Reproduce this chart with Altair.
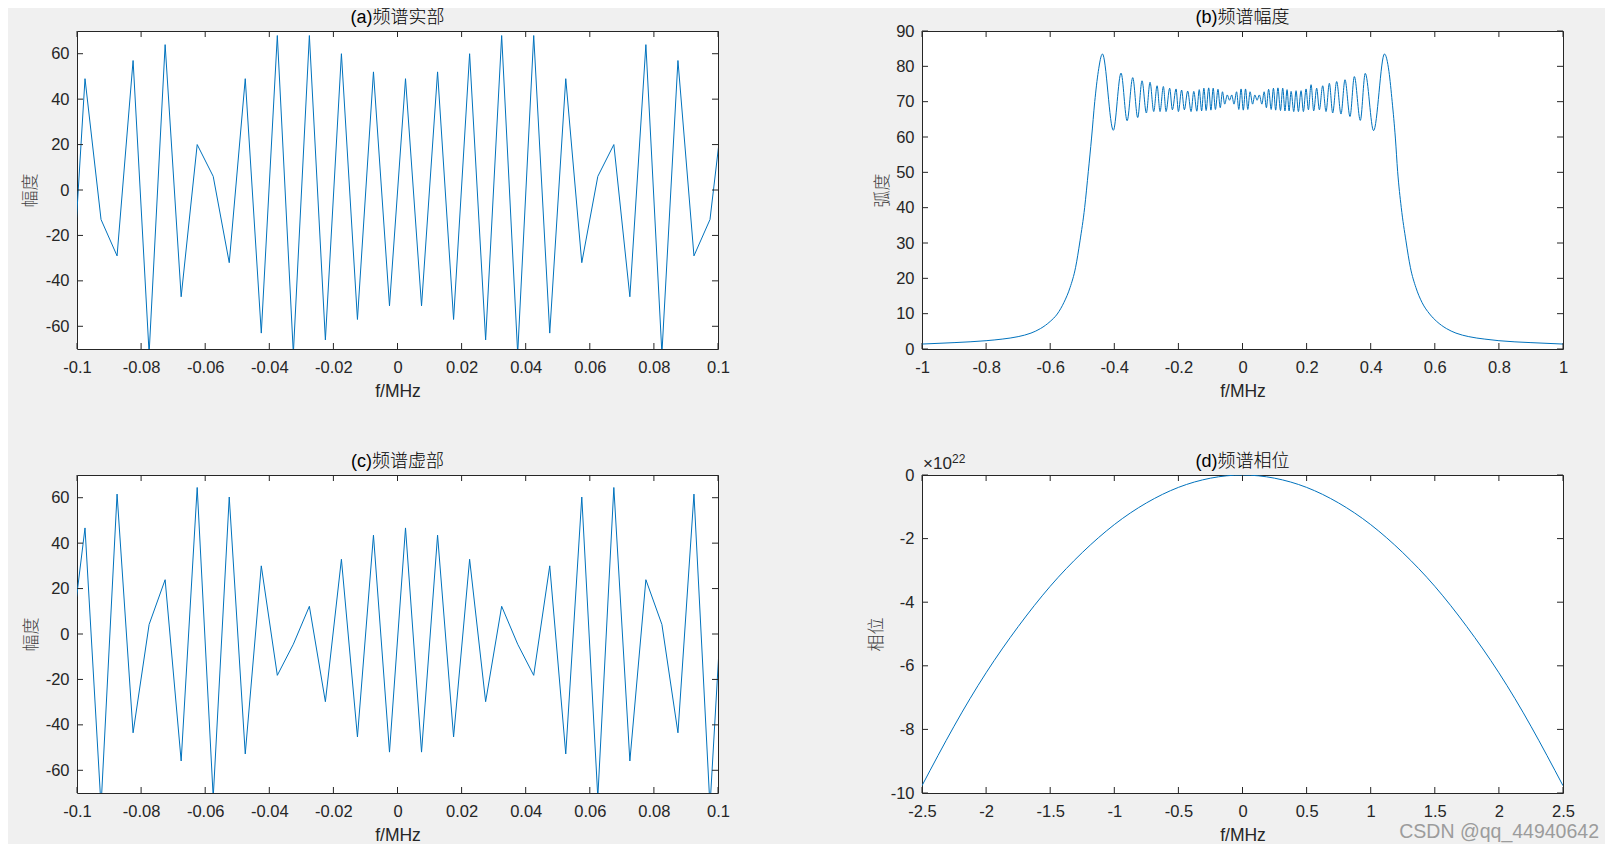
import altair as alt
import pandas as pd

BLUE = "#0072BD"
AX = "#262626"
FONT = "Liberation Sans, Arial, Noto Sans CJK SC"
CJK = "Noto Sans CJK SC"
W, H = 641, 318
TL = 6

# ---------------- data ----------------
f_ac = [-0.1025, -0.0975, -0.0925, -0.0875, -0.0825, -0.0775, -0.0725, -0.0675, -0.0625, -0.0575,
        -0.0525, -0.0475, -0.0425, -0.0375, -0.0325, -0.0275, -0.0225, -0.0175, -0.0125, -0.0075,
        -0.0025, 0.0025, 0.0075, 0.0125, 0.0175, 0.0225, 0.0275, 0.0325, 0.0375, 0.0425,
        0.0475, 0.0525, 0.0575, 0.0625, 0.0675, 0.0725, 0.0775, 0.0825, 0.0875, 0.0925,
        0.0975, 0.1025]
real_part = [-67, 49, -13, -29, 57, -72, 64, -47, 20, 6,
             -32, 49, -63, 68, -72, 68, -66, 60, -57, 52,
             -51, 49, -51, 52, -57, 60, -66, 68, -72, 68,
             -63, 49, -32, 6, 20, -47, 64, -72, 57, -29,
             -13, 47]
imag_part = [-11, 46.7, -76, 61.6, -43.5, 4.2, 23.9, -55.9, 64.5, -72,
             60.3, -52.8, 30, -18.2, -4.5, 12.2, -29.8, 32.9, -45.3, 43.5,
             -52, 46.7, -52, 43.5, -45.3, 32.9, -29.8, 12.2, -4.5, -18.2,
             30, -52.8, 60.3, -72, 64.5, -55.9, 23.9, 4.2, -43.5, 61.6,
             -76, 46.7]

f_mag = [-1.0, -0.9, -0.8, -0.75, -0.7, -0.66, -0.63, -0.6, -0.578, -0.557, -0.538,
         -0.521, -0.507, -0.4925, -0.481, -0.471, -0.461, -0.450, -0.437,
         -0.403, -0.379, -0.360, -0.3425, -0.327, -0.3135, -0.300, -0.2885, -0.277, -0.2665,
         -0.2573, -0.2469, -0.2385, -0.2272, -0.2188, -0.2073, -0.200, -0.190, -0.1814, -0.171,
         -0.1605, -0.152, -0.1425, -0.135, -0.1275, -0.1205, -0.1135, -0.1055, -0.0985, -0.0915,
         -0.0845, -0.0765, -0.0695, -0.0625, -0.0555, -0.0475, -0.0405, -0.0335, -0.0265, -0.0185,
         -0.0115, -0.0045, 0.0025, 0.0095, 0.0165, 0.0235, 0.0315, 0.0385, 0.0455, 0.0525,
         0.0605, 0.0675, 0.0745, 0.0815, 0.0895, 0.0965, 0.1035, 0.1105, 0.1185, 0.1255,
         0.1325, 0.139, 0.1453, 0.1516, 0.1599, 0.1671, 0.1744, 0.1827, 0.19, 0.1983,
         0.2056, 0.2139, 0.2222, 0.2315, 0.2398, 0.2502, 0.2606, 0.271, 0.2814, 0.2938,
         0.3073, 0.3198, 0.3354, 0.349, 0.3676, 0.383, 0.409, 0.443,
         0.457, 0.467, 0.477, 0.484, 0.4954, 0.51, 0.524, 0.541, 0.56, 0.584,
         0.606, 0.636, 0.666, 0.706, 0.756, 0.8, 0.9, 1.0]
magnitude = [1.4, 1.8, 2.35, 2.8, 3.5, 4.5, 5.8, 7.8, 9.9, 13.2, 17.4,
             23.0, 30.6, 40.0, 50.3, 59.7, 70.0, 78.5, 83.5,
             61.9, 78.1, 64.6, 76.8, 65.5, 75.9, 66.8, 75.5, 67.2, 74.5,
             67.2, 74.3, 67.2, 73.8, 67.7, 73.6, 67.2, 73.3, 67.7, 73.0,
             67.2, 72.9, 67.3, 73.4, 67.4, 73.8, 67.5, 73.9, 67.6, 73.8,
             67.8, 73.5, 68.3, 72.8, 69.3, 71.9, 70.4, 71.9, 69.3, 72.8,
             67.8, 73.6, 67.6, 73.6, 67.8, 72.8, 69.3, 71.9, 70.4, 71.9,
             69.3, 72.8, 68.3, 73.5, 67.8, 73.8, 67.6, 73.9, 67.5, 73.8,
             67.4, 73.4, 67.4, 72.9, 67.2, 73.1, 67.2, 73.1, 67.2, 73.6,
             67.7, 74.8, 67.4, 73.8, 67.7, 74.5, 67.2, 75.2, 66.8, 75.7,
             66.5, 76.2, 65.8, 77.1, 64.7, 78.0, 61.8, 83.5,
             78.5, 70.0, 59.7, 50.3, 40.0, 30.6, 23.0, 17.4, 13.2, 9.9,
             7.8, 5.8, 4.5, 3.5, 2.8, 2.35, 1.8, 1.4]

f_phase = [-2.5, -2.25, -2.0, -1.75, -1.5, -1.25, -1.0, -0.75, -0.5, -0.25, 0.0,
           0.25, 0.5, 0.75, 1.0, 1.25, 1.5, 1.75, 2.0, 2.25, 2.5]
phase_e22 = [-9.77, -7.9, -6.22, -4.77, -3.5, -2.44, -1.56, -0.88, -0.39, -0.1, 0.0,
             -0.1, -0.39, -0.88, -1.56, -2.44, -3.5, -4.77, -6.22, -7.9, -9.77]

ticks_x_ac = [-0.1, -0.08, -0.06, -0.04, -0.02, 0, 0.02, 0.04, 0.06, 0.08, 0.1]
ticks_y_ac = [-60, -40, -20, 0, 20, 40, 60]
ticks_x_b = [-1, -0.8, -0.6, -0.4, -0.2, 0, 0.2, 0.4, 0.6, 0.8, 1]
ticks_y_b = [0, 10, 20, 30, 40, 50, 60, 70, 80, 90]
ticks_x_d = [-2.5, -2, -1.5, -1, -0.5, 0, 0.5, 1, 1.5, 2, 2.5]
ticks_y_d = [-10, -8, -6, -4, -2, 0]

titles = ["(a)频谱实部", "(b)频谱幅度", "(c)频谱虚部", "(d)频谱相位"]
ylabels = ["幅度", "弧度", "幅度", "相位"]
xlabel = "f/MHz"

LAB = "datum.value < 0 ? '-' + format(-datum.value, '.2~f') : format(datum.value, '.2~f')"


def text_layer(txt, x, y, size, color=AX, align="center", baseline="middle", weight=400):
    return alt.Chart(pd.DataFrame({"t": [txt]})).mark_text(
        align=align, baseline=baseline, font=FONT, fontSize=size, color=color, fontWeight=weight
    ).encode(x=alt.value(x), y=alt.value(y), text="t:N")


def panel(df, xdom, ydom, xticks, yticks, title, ylab, ytx, interp="linear", extra=None):
    xs = alt.Scale(domain=xdom, nice=False, zero=False)
    ys = alt.Scale(domain=ydom, nice=False, zero=False)
    xaxis = alt.Axis(
        values=xticks, ticks=False, domain=False, grid=False, labelExpr=LAB,
        labelFont=FONT, labelFontSize=16.5, labelColor=AX, labelPadding=10,
        labelFlush=False, labelOverlap=False, labelBound=False,
        title=xlabel, titleFont=FONT, titleFontSize=17.5, titleFontWeight="normal",
        titleColor=AX, titleX=W / 2, titleY=42, titleBaseline="middle", titleAlign="center")
    yaxis = alt.Axis(
        values=yticks, ticks=False, domain=False, grid=False, labelExpr=LAB,
        labelFont=FONT, labelFontSize=16.5, labelColor=AX, labelPadding=8,
        labelFlush=False, labelOverlap=False, labelBound=False,
        title=ylab, titleFont=CJK, titleFontSize=17, titleFontWeight=300,
        titleColor="#404040", titleX=ytx, titleY=H / 2, titleBaseline="middle",
        titleAlign="center", titleAngle=270)
    line = alt.Chart(df).mark_line(color=BLUE, strokeWidth=1, clip=True, interpolate=interp).encode(
        x=alt.X("f:Q", scale=xs, axis=xaxis),
        y=alt.Y("v:Q", scale=ys, axis=yaxis),
    )
    xt = pd.DataFrame({"f": xticks})
    yt = pd.DataFrame({"v": yticks})
    rule = dict(color=AX, strokeWidth=1)
    bx = alt.Chart(xt).mark_rule(**rule).encode(
        x=alt.X("f:Q", scale=xs, axis=xaxis), y=alt.value(H), y2=alt.value(H - TL))
    tx = alt.Chart(xt).mark_rule(**rule).encode(
        x=alt.X("f:Q", scale=xs, axis=xaxis), y=alt.value(0), y2=alt.value(TL))
    ly = alt.Chart(yt).mark_rule(**rule).encode(
        y=alt.Y("v:Q", scale=ys, axis=yaxis), x=alt.value(0), x2=alt.value(TL))
    ry = alt.Chart(yt).mark_rule(**rule).encode(
        y=alt.Y("v:Q", scale=ys, axis=yaxis), x=alt.value(W - TL), x2=alt.value(W))
    ttl = text_layer(title, W / 2, -13.5, 18, color="#000000", weight=300)
    layers = [line, bx, tx, ly, ry, ttl] + (extra or [])
    return alt.layer(*layers).properties(width=W, height=H)


df_a = pd.DataFrame({"f": f_ac, "v": real_part})
df_c = pd.DataFrame({"f": f_ac, "v": imag_part})
df_b = pd.DataFrame({"f": f_mag, "v": magnitude})
df_d = pd.DataFrame({"f": f_phase, "v": phase_e22})

exp_base = text_layer("×10", 1, -6, 17, align="left", baseline="alphabetic")
exp_pow = text_layer("22", 30, -12.5, 12, align="left", baseline="alphabetic")
mark_wm = text_layer("CSDN @qq_44940642", 677, 357, 19.5, color="#9c9c9c", align="right")

pa = panel(df_a, [-0.1, 0.1], [-70, 70], ticks_x_ac, ticks_y_ac, titles[0], ylabels[0], -47)
pb = panel(df_b, [-1, 1], [0, 90], ticks_x_b, ticks_y_b, titles[1], ylabels[1], -40, interp="monotone")
pc = panel(df_c, [-0.1, 0.1], [-70, 70], ticks_x_ac, ticks_y_ac, titles[2], ylabels[2], -46)
pd_ = panel(df_d, [-2.5, 2.5], [-10, 0], ticks_x_d, ticks_y_d, titles[3], ylabels[3], -46,
            interp="natural", extra=[exp_base, exp_pow, mark_wm])

chart = alt.concat(pa, pb, pc, pd_, columns=2, spacing={"row": 126, "column": 204},
                   bounds="flush").properties(
    background="#f0f0f0",
    padding={"left": 12, "top": 0, "right": 5, "bottom": 0},
).configure_view(stroke=AX, strokeWidth=1, fill="white")

chart.save("out.html", embed_options={"renderer": "svg", "actions": False})
